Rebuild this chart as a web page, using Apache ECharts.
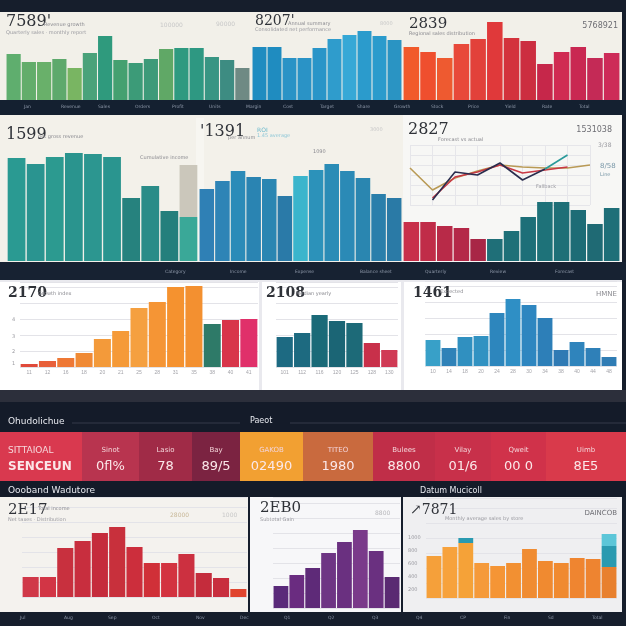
<!DOCTYPE html>
<html><head><meta charset="utf-8">
<script src="https://cdn.jsdelivr.net/npm/echarts@6/dist/echarts.min.js"></script>
<style>html,body{margin:0;padding:0;background:#161e2c}#c{width:626px;height:626px}</style>
</head><body><div id="c"></div><script>
// ---------- DATA ----------
const r1GreenValues=[46,38,38,41,32,47,64,40,37,41,51,52,52,43,40,32];
const r1BlueValues=[53,53,42,42,52,61,65,69,64,60];
const r1RedValues=[53,48,42,56,61,78,62,59,36,48,53,42,47];
const r2TealValues=[103,97,104,108,107,104,63,75,50,44];
const r2TealGrayTop=[0,0,0,0,0,0,0,0,0,52];
const r2BlueValues=[72,80,90,84,82,65,85,91,97,90,83,67,63];
const r2MixValues=[39,39,35,33,22,22,30,44,59,59,51,37,53];
const lineCats=['1','2','3','4','5','6','7','8','9'];
const lineNavy=[null,5,33,30,42,25,36,null,null];
const lineTeal=[null,null,null,null,null,null,36,50,null];
const lineGold=[37,15,27,34,40,38,37,37,40];
const lineRed=[null,7,28,33,40,32,35,38,null];
const r3OrangeCats=['11','12','16','18','20','21','25','28','31','35','38','40','41'];
const r3OrangeValues=[3,6,9,14,28,36,59,65,80,81,43,47,48];
const r3TealCats=['101','112','116','120','125','128','130'];
const r3TealValues=[30,34,52,46,44,24,17];
const r3BlueCats=['10','14','18','20','24','28','30','34','38','40','44','48'];
const r3BlueValues=[26,18,29,30,53,67,61,48,16,24,18,9];
const r5RedValues=[20,20,49,56,64,70,50,34,34,43,24,19,8];
const r5PurpleValues=[22,33,40,55,66,78,57,31];
const r5OrangeValues=[42,51,55,35,32,35,49,37,35,40,39,31];
const r5OrangeTealTop=[0,0,5,0,0,0,0,0,0,0,0,21];
const r5OrangeCyanTop=[0,0,0,0,0,0,0,0,0,0,0,12];
const kpiTop=['SITTAIOAL','Sinot','Lasio','Bay','GAKOB','TITEO','Bulees','Vilay','Qweit','Uimb'];
const kpiBottom=['SENCEUN','0fl%','78','89/5','02490','1980','8800','01/6','00 0','8E5'];

// ---------- STYLE ----------
const cGreen=['#5fae6e','#63ad6b','#69b06a','#5ea96c','#79b562','#4aa27a','#2f9a7d','#45a070','#3c9b78','#3d9a79','#60a866','#2f9a80','#2e9882','#389583','#3d8c82','#6f8a84'];
const cBlue1=['#1f8cc0','#1f8cc0','#2a93c6','#2a93c6','#2a95c8','#2f9ccc','#36a8d6','#2b9bcc','#2b9bcc','#2a94c3'];
const cRed1=['#f15a2b','#ef4f2e','#ee5a30','#e8493a','#e2413a','#e0393a','#d3333c','#cc2e40','#c6274a','#d02b52','#c92852','#c42a56','#cd2b58'];
const cTeal2=['#2a9a92','#2a9490','#2c9a90','#2a948e','#2c9690','#2a958f','#26827e','#2a8c88','#247f7c','#3aa898'];
const cBlue2=['#2f80b5','#2e84b6','#2b8bb8','#2a84b2','#2a86b2','#2a7aa8','#3bb5cc','#2c92ba','#2a8cb6','#2b8ab6','#2a86b0','#2a7fab','#2a7aa6'];
const cMix2=['#c8304a','#c02c48','#b82a48','#b42848','#a82646','#1f6f78','#1e7078','#1d6f78','#1e7279','#1e6f77','#1d6c76','#1f6a74','#1f6f78'];
const cOrange3=['#e04a3a','#e8603a','#ee7835','#f08a35','#f39a3a','#f59a38','#f5a040','#f59535','#f5922f','#f39030','#2e7a68','#d8354a','#e0306a'];
const cTeal3=['#1d6a82','#1d6a80','#1a6a78','#1b6575','#1d6a78','#c8304a','#d03a55'];
const cBlue3=['#38a0c8','#2f82b8','#3090c0','#3192c2','#2d86bd','#2f8fc5','#2e86c0','#2d7fb8','#2f7ab4','#2f84bc','#2f80b8','#2f7cb4'];
const cRed5=['#d03848','#d23545','#c8303e','#c82e3e','#c52c3c','#c8303c','#cc2e3c','#d03038','#d33340','#cc3040','#c42c3c','#c82e3e','#e0442e'];
const cPurple5=['#5a2a7a','#6a2c80','#5e2a78','#6e3584','#6a3080','#7a3a8a','#6a3080','#5a2a72'];
const cOrange5=['#f5a03a','#f7a23c','#f5a238','#f59a3a','#f59535','#f29032','#f08c32','#f08a30','#f08a30','#ef8530','#ee8430','#e8802e'];
const kpiColors=['#d9394f','#b8344f','#a02b47','#7b2341','#f2a032','#c96a3e','#c02e48','#c8304a','#d0324a','#d93a4b'];
const kpiX=[0,82,139,192,240,303,373,435,491,546,626];

const grids=[],xAxes=[],yAxes=[],series=[];
function panel(vals,cols,box,o){
  o=o||{};
  const i=grids.length;
  grids.push({left:box[0],top:box[2]-box[3],width:box[1]-box[0],height:box[3]});
  xAxes.push({type:'category',gridIndex:i,data:o.cats||vals.map((_,k)=>String(k+1)),
    axisLine:{show:false},axisTick:{show:false},
    axisLabel:o.cats?{show:true,fontSize:5,color:'#a4a4aa',margin:3,interval:0}:{show:false}});
  yAxes.push({type:'value',gridIndex:i,min:0,max:box[3],interval:o.interval||box[3],
    splitLine:{show:!!o.split,lineStyle:{color:'#e3e3e8',width:1}},
    axisLabel:{show:false},axisLine:{show:false},axisTick:{show:false}});
  series.push({type:'bar',xAxisIndex:i,yAxisIndex:i,stack:'s'+i,barCategoryGap:o.gap||'7%',silent:true,
    data:vals.map((v,k)=>({value:v,itemStyle:{color:cols[k%cols.length]}}))});
  (o.extra||[]).forEach(e=>series.push({type:'bar',xAxisIndex:i,yAxisIndex:i,stack:'s'+i,barCategoryGap:o.gap||'7%',silent:true,
    data:e.vals.map(v=>({value:v,itemStyle:{color:e.color}}))}));
  return i;
}
panel(r1GreenValues,cGreen,[6,250,100,87]);
panel(r1BlueValues,cBlue1,[252,402,100,87]);
panel(r1RedValues,cRed1,[403,620,100,87]);
panel(r2TealValues,cTeal2,[7,198,261,146],{extra:[{vals:r2TealGrayTop,color:'#cbc7bb'}]});
panel(r2BlueValues,cBlue2,[199,402,261,146]);
panel(r2MixValues,cMix2,[403,620,261,146]);
panel(r3OrangeValues,cOrange3,[20,258,367,85],{cats:r3OrangeCats,split:true,interval:16});
panel(r3TealValues,cTeal3,[276,398,367,85],{cats:r3TealCats,split:true,interval:16});
panel(r3BlueValues,cBlue3,[425,617,366,85],{cats:r3BlueCats,split:true,interval:16});
panel(r5RedValues,cRed5,[22,247,597,100],{split:true,interval:15});
panel(r5PurpleValues,cPurple5,[273,400,608,111],{split:true,interval:15});
panel(r5OrangeValues,cOrange5,[426,617,598,100],{split:true,interval:15,extra:[{vals:r5OrangeTealTop,color:'#2a9ab0'},{vals:r5OrangeCyanTop,color:'#5cc6d8'}]});

// line chart overlay in row 2 right panel
const li=grids.length;
grids.push({left:410,top:145,width:180,height:60});
xAxes.push({type:'category',gridIndex:li,data:lineCats,boundaryGap:false,axisLine:{show:false},axisTick:{show:false},axisLabel:{show:false},splitLine:{show:true,lineStyle:{color:'#e6e6ea'}}});
yAxes.push({type:'value',gridIndex:li,min:0,max:60,interval:10,axisLabel:{show:false},axisLine:{show:false},axisTick:{show:false},splitLine:{lineStyle:{color:'#e6e6ea'}}});
[[lineGold,'#b99a55'],[lineRed,'#c83844'],[lineNavy,'#2a2d4e'],[lineTeal,'#2a9a9a']].forEach(([d,c])=>
  series.push({type:'line',xAxisIndex:li,yAxisIndex:li,data:d,symbol:'none',smooth:false,silent:true,connectNulls:false,lineStyle:{color:c,width:1.6}}));

// ---------- GRAPHIC ----------
const g=[];
function rect(x,y,w,h,fill,z){g.push({type:'rect',shape:{x,y,width:w,height:h},style:{fill},z:z||-10,silent:true});}
function txt(x,y,t,size,fill,o){o=o||{};g.push({type:'text',x,y,z:10,silent:true,style:{text:t,fontSize:size,fill,fontFamily:o.ff||'DejaVu Sans',fontWeight:o.fw||'normal',textAlign:o.align||'left',textVerticalAlign:'middle'}});}
rect(0,0,626,626,'#161e2c',-20);
rect(0,12,622,88,'#f2f0e9');
rect(0,100,626,15,'#142030');
rect(0,115,403,147,'#f3f1ea');
rect(403,115,219,147,'#f7f7f5');
rect(196,118,8,144,'#f7f6f1');
rect(0,262,626,18,'#172232');
rect(0,280,622,112,'#e9e9ee');
rect(0,282,259,108,'#ffffff');
rect(262,282,139,108,'#ffffff');
rect(404,282,218,108,'#ffffff');
rect(0,390,626,12,'#2c2f3b');
rect(0,402,626,30,'#141b29');
rect(0,481,626,16,'#141b29');
rect(0,497,248,115,'#f4f2ee');
rect(250,497,151,115,'#f7f7f9');
rect(403,497,219,115,'#efeff1');
rect(0,612,626,14,'#161e2c');
// KPI band
for(let k=0;k<kpiColors.length;k++){
  rect(kpiX[k],432,kpiX[k+1]-kpiX[k],49,kpiColors[k]);
  if(k===0){txt(8,451,kpiTop[0],9,'#f6d8dc');txt(8,467,kpiBottom[0],12,'#fbe6e8',{fw:'bold'});}
  else{const cx=(kpiX[k]+kpiX[k+1])/2;txt(cx,450,kpiTop[k],7,'#f3d3d8',{align:'center'});txt(cx,467,kpiBottom[k],13,'#fbe8ea',{align:'center'});}
}
// header lines
g.push({type:'line',shape:{x1:72,y1:423,x2:240,y2:423},style:{stroke:'#343a4a',lineWidth:1},silent:true});
g.push({type:'line',shape:{x1:290,y1:423,x2:626,y2:423},style:{stroke:'#343a4a',lineWidth:1},silent:true});
txt(8,422,'Ohudolichue',9,'#e6e8ee');
txt(250,421,'Paeot',8,'#e6e8ee');
txt(8,491,'Oooband Wadutore',9,'#e6e8ee');
txt(420,491,'Datum Mucicoll',8,'#e6e8ee');
// titles
const serif='DejaVu Serif';
txt(6,22,"7589'",16,'#2f3238',{ff:serif});
txt(44,25,'Revenue growth',5,'#8a8a90');
txt(6,33,'Quarterly sales · monthly report',5,'#9a9aa0');
txt(160,25,'100000',6,'#c8c8c8');
txt(216,24,'90000',6,'#c8c8c8');
txt(255,21,"8207'",14,'#2f3238',{ff:serif});
txt(288,24,'Annual summary',5,'#8a8a90');
txt(255,30,'Consolidated net performance',5,'#9a9aa0');
txt(380,24,'8000',5,'#c8c8c8');
txt(409,24,'2839',15,'#2f3238',{ff:serif});
txt(409,34,'Regional sales distribution',5,'#8a8a90');
txt(618,26,'5768921',8,'#6e6e74',{align:'right'});
txt(6,135,'1599',16,'#2f3238',{ff:serif});
txt(38,137,'net gross revenue',5,'#8a8a90');
txt(140,158,'Cumulative income',5,'#8a8a90');
txt(200,132,"'1391",16,'#2f3238',{ff:serif});
txt(228,138,'per annum',5,'#8a8a90');
txt(257,130,'ROI',6,'#68b8cc');
txt(257,136,'1.45 average',5,'#90c8d8');
txt(370,130,'3000',5,'#c8c8c8');
txt(408,130,'2827',16,'#2f3238',{ff:serif});
txt(438,140,'Forecast vs actual',5,'#8a8a90');
txt(612,130,'1531038',8,'#6e6e74',{align:'right'});
txt(598,145,'3/38',6,'#9a9aa0');
txt(600,166,'8/58',7,'#7a98a8');
txt(600,175,'Line',5,'#7a98a8');
txt(536,187,'Fallback',5,'#9a9aa0');
txt(313,152,'1090',5,'#8a8a90');
txt(8,293,'2170',14,'#2f3238',{ff:serif,fw:'bold'});
txt(38,294,'Growth index',5,'#8a8a90');
txt(266,293,'2108',14,'#2f3238',{ff:serif,fw:'bold'});
txt(296,294,'Median yearly',5,'#8a8a90');
txt(413,293,'1461',14,'#2f3238',{ff:serif,fw:'bold'});
txt(440,292,'Expected',5,'#8a8a90');
txt(617,294,'HMNE',7,'#8a8a90',{align:'right'});
txt(12,320,'4',5,'#9a9aa0');txt(12,337,'3',5,'#9a9aa0');txt(12,352,'2',5,'#9a9aa0');txt(12,364,'1',5,'#9a9aa0');
txt(8,510,'2E17',15,'#2f3238',{ff:serif});
txt(38,509,'Total income',5,'#8a8a90');
txt(8,520,'Net taxes · Distribution',5,'#9a9aa0');
txt(170,515,'28000',6,'#c8b898');
txt(222,515,'1000',6,'#c8c8c8');
txt(260,508,'2EB0',15,'#2f3238',{ff:serif});
txt(260,520,'Subtotal Gain',5,'#9a9aa0');
txt(375,513,'8800',6,'#b8b8bc');
txt(410,510,'\u21977871',14,'#2f3238',{ff:serif});
txt(445,519,'Monthly average sales by store',5,'#9a9aa0');
txt(617,513,'DAINCOB',7,'#6e6e74',{align:'right'});
['1000','800','600','400','200'].forEach((t,k)=>txt(408,538+k*13,t,5,'#9a9aa0'));
// strip labels
['Jan','Revenue','Sales','Orders','Profit','Units','Margin','Cost','Target','Share','Growth','Stock','Price','Yield','Rate','Total'].forEach((t,k)=>txt(24+k*37,107,t,4.5,'#8d97a8'));
['Category','Income','Expense','Balance sheet','Quarterly','Review','Forecast'].forEach((t,k)=>txt(165+k*65,272,t,4.5,'#8d97a8'));
['Jul','Aug','Sep','Oct','Nov','Dec','Q1','Q2','Q3','Q4','CP','Fin','Sd','Total'].forEach((t,k)=>txt(20+k*44,618,t,4.5,'#8d97a8'));

const chart=echarts.init(document.getElementById('c'),null,{renderer:'canvas'});
chart.setOption({animation:false,grid:grids,xAxis:xAxes,yAxis:yAxes,series,graphic:{elements:g}});
</script></body></html>
